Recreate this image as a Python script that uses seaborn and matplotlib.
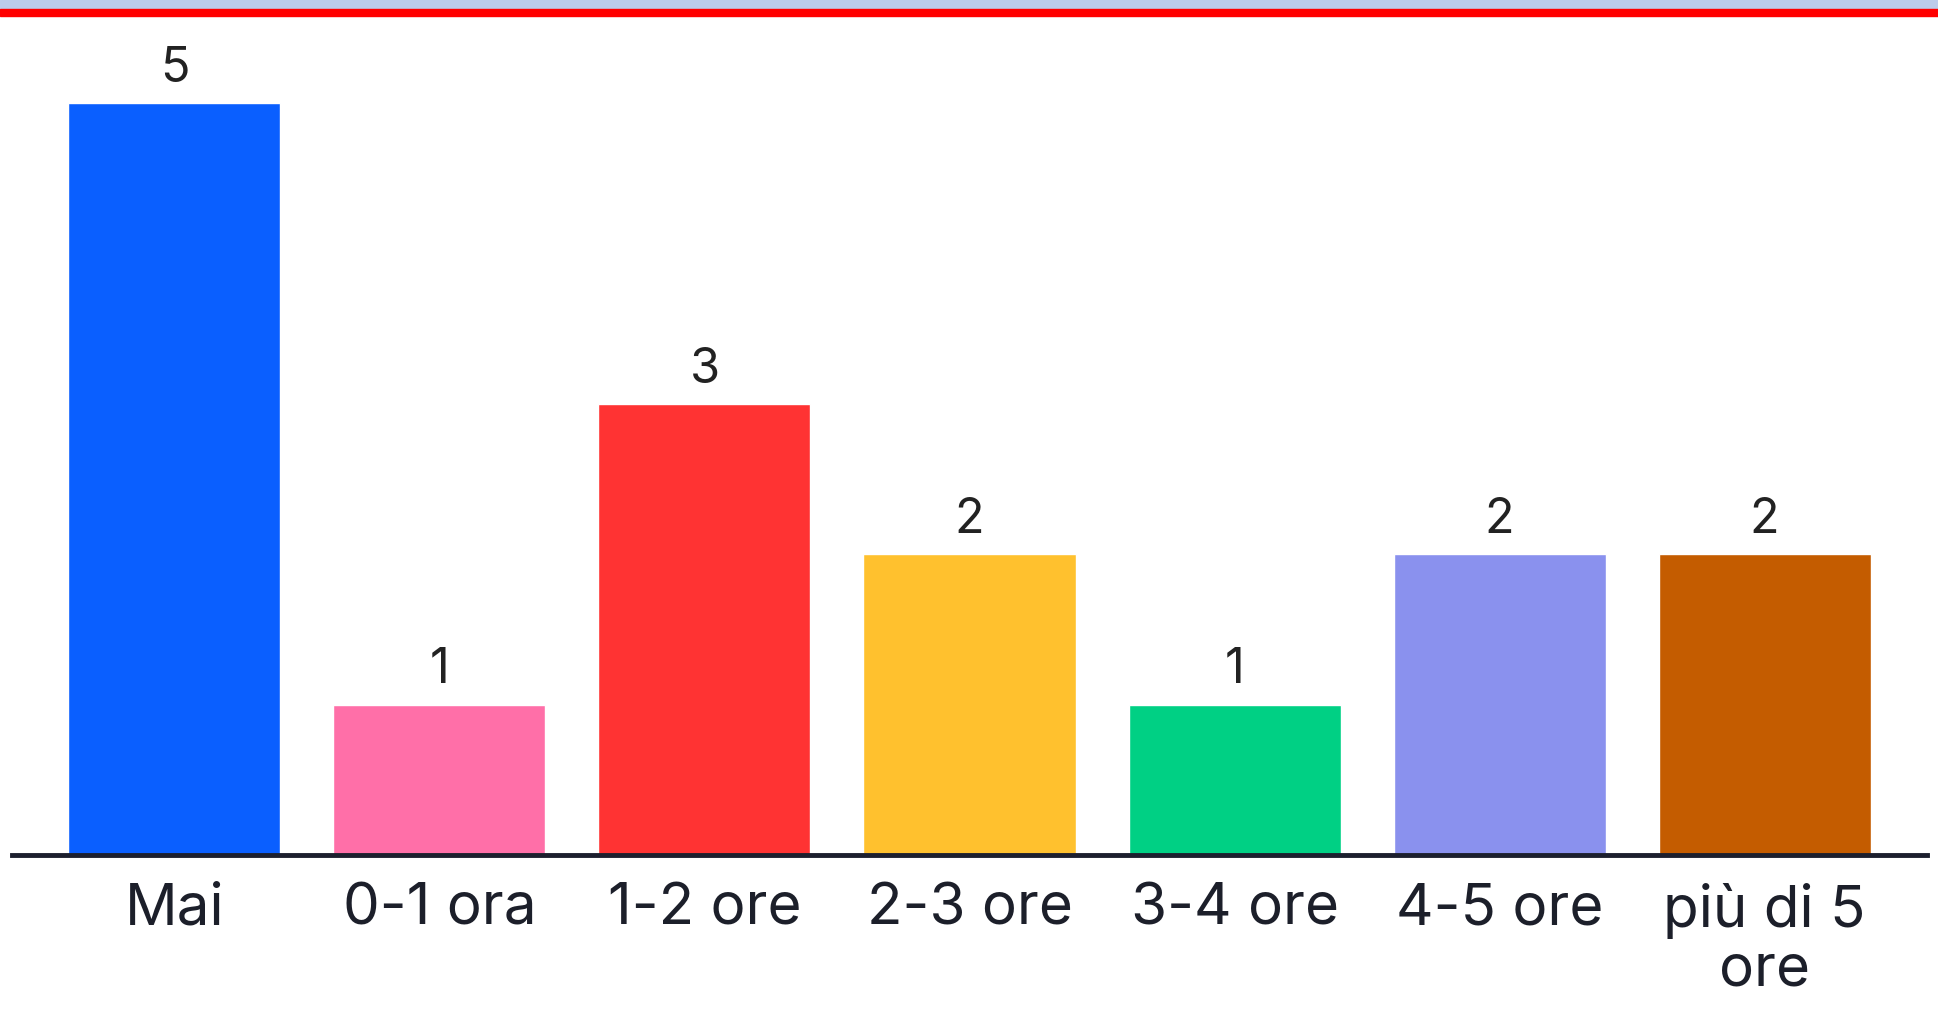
import matplotlib
matplotlib.use("Agg")
import matplotlib.pyplot as plt
import seaborn as sns
import pandas as pd

categories = ["Mai", "0-1 ora", "1-2 ore", "2-3 ore", "3-4 ore", "4-5 ore", "più di 5\nore"]
counts = [5, 1, 3, 2, 1, 2, 2]
colors = ["#0A5FFF", "#FF6FA8", "#FF3333", "#FFC12E", "#00D084", "#8A91EE", "#C45C00"]

df = pd.DataFrame({"categoria": categories, "n": counts})

sns.set_theme(style="white")
plt.rcParams["font.family"] = ["Inter", "DejaVu Sans"]

fig = plt.figure(figsize=(19.38, 10.22), dpi=100)
fig.patch.set_facecolor("white")

# top header strips (light blue + red)
fig.add_artist(plt.Rectangle((0, 1 - 9 / 1022), 1, 9 / 1022, transform=fig.transFigure,
                             color="#BCCCEB", zorder=5))
fig.add_artist(plt.Rectangle((0, 1 - 16 / 1022), 1, 7 / 1022, transform=fig.transFigure,
                             color="#FF0000", zorder=5))

ax = fig.add_axes([12 / 1938, 167 / 1022, 1915 / 1938, 835 / 1022])
sns.barplot(data=df, x="categoria", y="n", hue="categoria", palette=colors,
            legend=False, width=0.8, saturation=1, ax=ax)

for cont in ax.containers:
    ax.bar_label(cont, fontsize=35, color="#222222", padding=8)

ax.set_xlim(-0.613, 6.613)
ax.set_ylim(0, 5.55)
ax.set_xlabel("")
ax.set_ylabel("")
ax.set_yticks([])
ax.tick_params(axis="x", length=0, labelsize=42, labelcolor="#1c1f2a", pad=20)
for lbl in ax.get_xticklabels():
    lbl.set_linespacing(1.12)

for s in ["top", "left", "right"]:
    ax.spines[s].set_visible(False)
ax.spines["bottom"].set_color("#1c1f2e")
ax.spines["bottom"].set_linewidth(3.5)

fig.savefig("out.png", dpi=100, facecolor="white")
